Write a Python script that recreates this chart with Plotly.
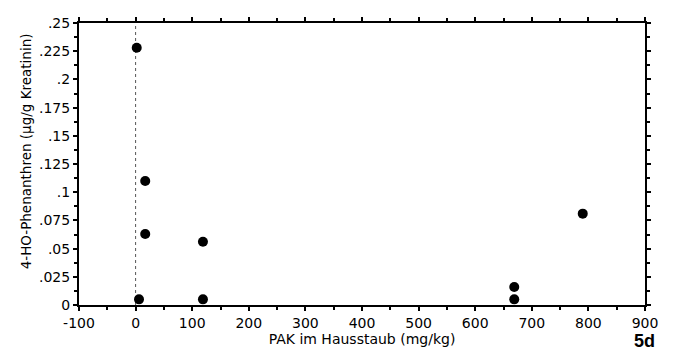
import plotly.graph_objects as go

# Data
pak_mg_kg = [2, 6, 17, 17, 119, 119, 669, 669, 790]
ho_phen = [0.228, 0.005, 0.110, 0.063, 0.056, 0.005, 0.016, 0.005, 0.081]

y_tickvals = [0, 0.025, 0.05, 0.075, 0.1, 0.125, 0.15, 0.175, 0.2, 0.225, 0.25]
y_ticktext = ["0", ".025", ".05", ".075", ".1", ".125", ".15", ".175", ".2", ".225", ".25"]
x_tickvals = [-100, 0, 100, 200, 300, 400, 500, 600, 700, 800, 900]
x_ticktext = [str(v) for v in x_tickvals]

fig = go.Figure()
fig.add_trace(go.Scatter(
    x=pak_mg_kg, y=ho_phen, mode="markers",
    marker=dict(color="black", size=10),
    showlegend=False,
))

fig.add_shape(type="line", xref="x", yref="y", x0=0, x1=0, y0=0, y1=0.25,
              line=dict(color="#555555", width=1, dash="dot"), layer="below")

font = dict(family="DejaVu Sans, Arial, sans-serif", size=14, color="black")

# page body has an 8px default margin, so the figure is sized to fit the window
fig.update_layout(
    width=666, height=342,
    margin=dict(l=71, r=29, t=7, b=45),
    paper_bgcolor="white", plot_bgcolor="white",
    font=font,
    xaxis=dict(
        range=[-100, 900], tickvals=x_tickvals, ticktext=x_ticktext,
        showgrid=False, zeroline=False,
        showline=True, linecolor="black", linewidth=2, mirror="ticks",
        ticks="outside", ticklen=4, tickwidth=1.5, tickcolor="black",
        minor=dict(dtick=50, ticks="outside", ticklen=3, tickcolor="black", showgrid=False),
        title=dict(text="PAK im Hausstaub (mg/kg)", standoff=0, font=font),
    ),
    yaxis=dict(
        range=[0, 0.25], tickvals=y_tickvals, ticktext=y_ticktext,
        showgrid=False, zeroline=False,
        showline=True, linecolor="black", linewidth=2, mirror="ticks",
        ticks="outside", ticklen=4, tickwidth=1.5, tickcolor="black",
        minor=dict(dtick=0.0125, ticks="outside", ticklen=3, tickcolor="black", showgrid=False),
    ),
    annotations=[
        dict(
            text="4-HO-Phenanthren (µg/g Kreatinin)", xref="paper", yref="paper",
            x=-0.0936, y=0.545, xanchor="center", yanchor="middle", textangle=-90,
            showarrow=False,
            font=dict(family="DejaVu Sans, Arial, sans-serif", size=13.5, color="black"),
        ),
        dict(
            text="<b>5d</b>", xref="paper", yref="paper", x=1.021, y=-0.085,
            xanchor="right", yanchor="top", showarrow=False,
            font=dict(family="Liberation Sans, Arial, sans-serif", size=18, color="black"),
        ),
    ],
)

fig.write_html("out.html")
